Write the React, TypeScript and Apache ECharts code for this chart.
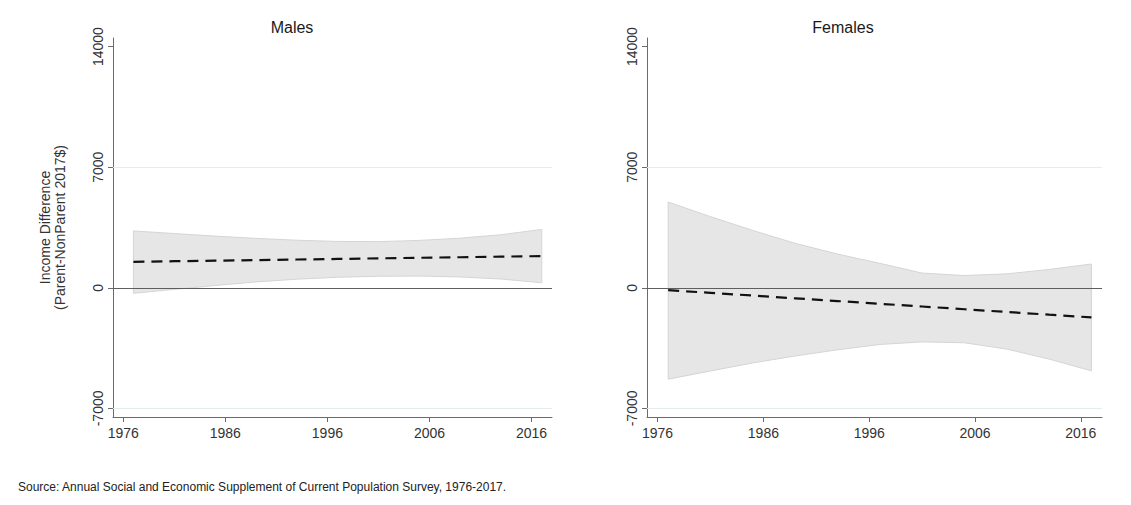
import React, { useEffect, useRef } from "react";
import * as echarts from "echarts";

const years = [1977, 1981, 1985, 1989, 1993, 1997, 2001, 2005, 2009, 2013, 2017];

const maleFit = [1510, 1543, 1576, 1609, 1642, 1675, 1708, 1741, 1774, 1807, 1840];
const maleUpper = [3300, 3150, 3000, 2870, 2760, 2690, 2680, 2750, 2880, 3080, 3390];
const maleLower = [-320, -90, 130, 340, 500, 610, 670, 680, 630, 510, 290];

const femaleFit = [-135, -294, -452, -611, -769, -928, -1086, -1245, -1403, -1562, -1720];
const femaleUpper = [4980, 4130, 3330, 2580, 1960, 1420, 855, 710, 810, 1065, 1380];
const femaleLower = [-5305, -4830, -4360, -3960, -3600, -3290, -3140, -3190, -3560, -4140, -4820];

const xTicks = [1976, 1986, 1996, 2006, 2016];
const yTicks = [-7000, 0, 7000, 14000];
const gridLineValues = [-7000, 7000];

const panelTitles = ["Males", "Females"];
const yTitle = "Income Difference\n(Parent-NonParent 2017$)";
const sourceNote =
  "Source: Annual Social and Economic Supplement of Current Population Survey, 1976-2017.";

const FONT = '"Liberation Sans", Arial, sans-serif';
const AXIS_COLOR = "#6b6b6b";
const LABEL_COLOR = "#333333";

export default function App() {
  const ref = useRef<HTMLDivElement>(null);

  useEffect(() => {
    if (!ref.current) return;
    const chart = echarts.init(ref.current, null, { renderer: "svg" });

    const grids = [
      { left: 113, top: 38, width: 439, height: 379 },
      { left: 647, top: 38, width: 455, height: 379 },
    ];

    const xAxis = grids.map((_, i) => ({
      type: "value",
      gridIndex: i,
      min: 1975,
      max: 2018,
      axisLine: { show: true, onZero: false, lineStyle: { color: AXIS_COLOR, width: 1 } },
      axisTick: {
        show: true,
        inside: false,
        length: 5,
        customValues: xTicks,
        lineStyle: { color: AXIS_COLOR },
      },
      axisLabel: {
        show: true,
        customValues: xTicks,
        margin: 9,
        fontSize: 14,
        fontFamily: FONT,
        color: LABEL_COLOR,
        formatter: (v: number) => String(v),
      },
      splitLine: { show: false },
    }));

    const yAxis = grids.map((_, i) => ({
      type: "value",
      gridIndex: i,
      min: -7500,
      max: 14500,
      name: i === 0 ? yTitle : "",
      nameLocation: "middle",
      nameGap: 46,
      nameTextStyle: {
        fontSize: 14,
        lineHeight: 15,
        fontFamily: FONT,
        color: LABEL_COLOR,
      },
      axisLine: { show: true, onZero: false, lineStyle: { color: AXIS_COLOR, width: 1 } },
      axisTick: {
        show: true,
        inside: false,
        length: 5,
        customValues: yTicks,
        lineStyle: { color: AXIS_COLOR },
      },
      axisLabel: {
        show: true,
        customValues: yTicks,
        rotate: 90,
        margin: 8,
        fontSize: 14,
        fontFamily: FONT,
        color: LABEL_COLOR,
        formatter: (v: number) => String(v),
      },
      splitLine: { show: false },
    }));

    const panels = [
      { fit: maleFit, upper: maleUpper, lower: maleLower },
      { fit: femaleFit, upper: femaleUpper, lower: femaleLower },
    ];

    const series: any[] = [];
    panels.forEach((p, i) => {
      series.push({
        type: "line",
        xAxisIndex: i,
        yAxisIndex: i,
        data: [],
        z: 1,
        silent: true,
        markLine: {
          silent: true,
          symbol: "none",
          label: { show: false },
          lineStyle: { color: "#e4eded", width: 1, type: "solid" },
          data: gridLineValues.map((v) => ({ yAxis: v })),
        },
      });
      series.push({
        type: "custom",
        xAxisIndex: i,
        yAxisIndex: i,
        z: 2,
        silent: true,
        data: [0],
        renderItem: (_params: any, api: any) => {
          const top = years.map((y, k) => api.coord([y, p.upper[k]]));
          const bottom = years.map((y, k) => api.coord([y, p.lower[k]])).reverse();
          return {
            type: "polygon",
            shape: { points: top.concat(bottom) },
            style: { fill: "#e6e6e6", stroke: "#d5d5d5", lineWidth: 1 },
          };
        },
      });
      series.push({
        type: "line",
        xAxisIndex: i,
        yAxisIndex: i,
        data: [],
        z: 3,
        silent: true,
        markLine: {
          silent: true,
          symbol: "none",
          label: { show: false },
          lineStyle: { color: "#5e5e5e", width: 1.2, type: "solid" },
          data: [{ yAxis: 0 }],
        },
      });
      series.push({
        type: "line",
        xAxisIndex: i,
        yAxisIndex: i,
        z: 4,
        silent: true,
        symbol: "none",
        data: years.map((y, k) => [y, p.fit[k]]),
        lineStyle: { color: "#111111", width: 2.2, type: [11, 7] },
      });
    });

    chart.setOption({
      animation: false,
      backgroundColor: "#ffffff",
      textStyle: { fontFamily: FONT },
      grid: grids,
      xAxis,
      yAxis,
      series,
      graphic: [
        {
          type: "text",
          x: 292,
          y: 27,
          style: {
            text: panelTitles[0],
            font: `16px ${FONT}`,
            fill: "#1a1a1a",
            align: "center",
            verticalAlign: "middle",
          },
        },
        {
          type: "text",
          x: 843,
          y: 27,
          style: {
            text: panelTitles[1],
            font: `16px ${FONT}`,
            fill: "#1a1a1a",
            align: "center",
            verticalAlign: "middle",
          },
        },
        {
          type: "text",
          x: 18,
          y: 487,
          style: {
            text: sourceNote,
            font: `12px ${FONT}`,
            fill: "#222222",
            align: "left",
            verticalAlign: "middle",
          },
        },
      ],
    });

    return () => chart.dispose();
  }, []);

  return (
    <div
      ref={ref}
      style={{ position: "fixed", left: 0, top: 0, width: 1131, height: 505, background: "#fff" }}
    />
  );
}
